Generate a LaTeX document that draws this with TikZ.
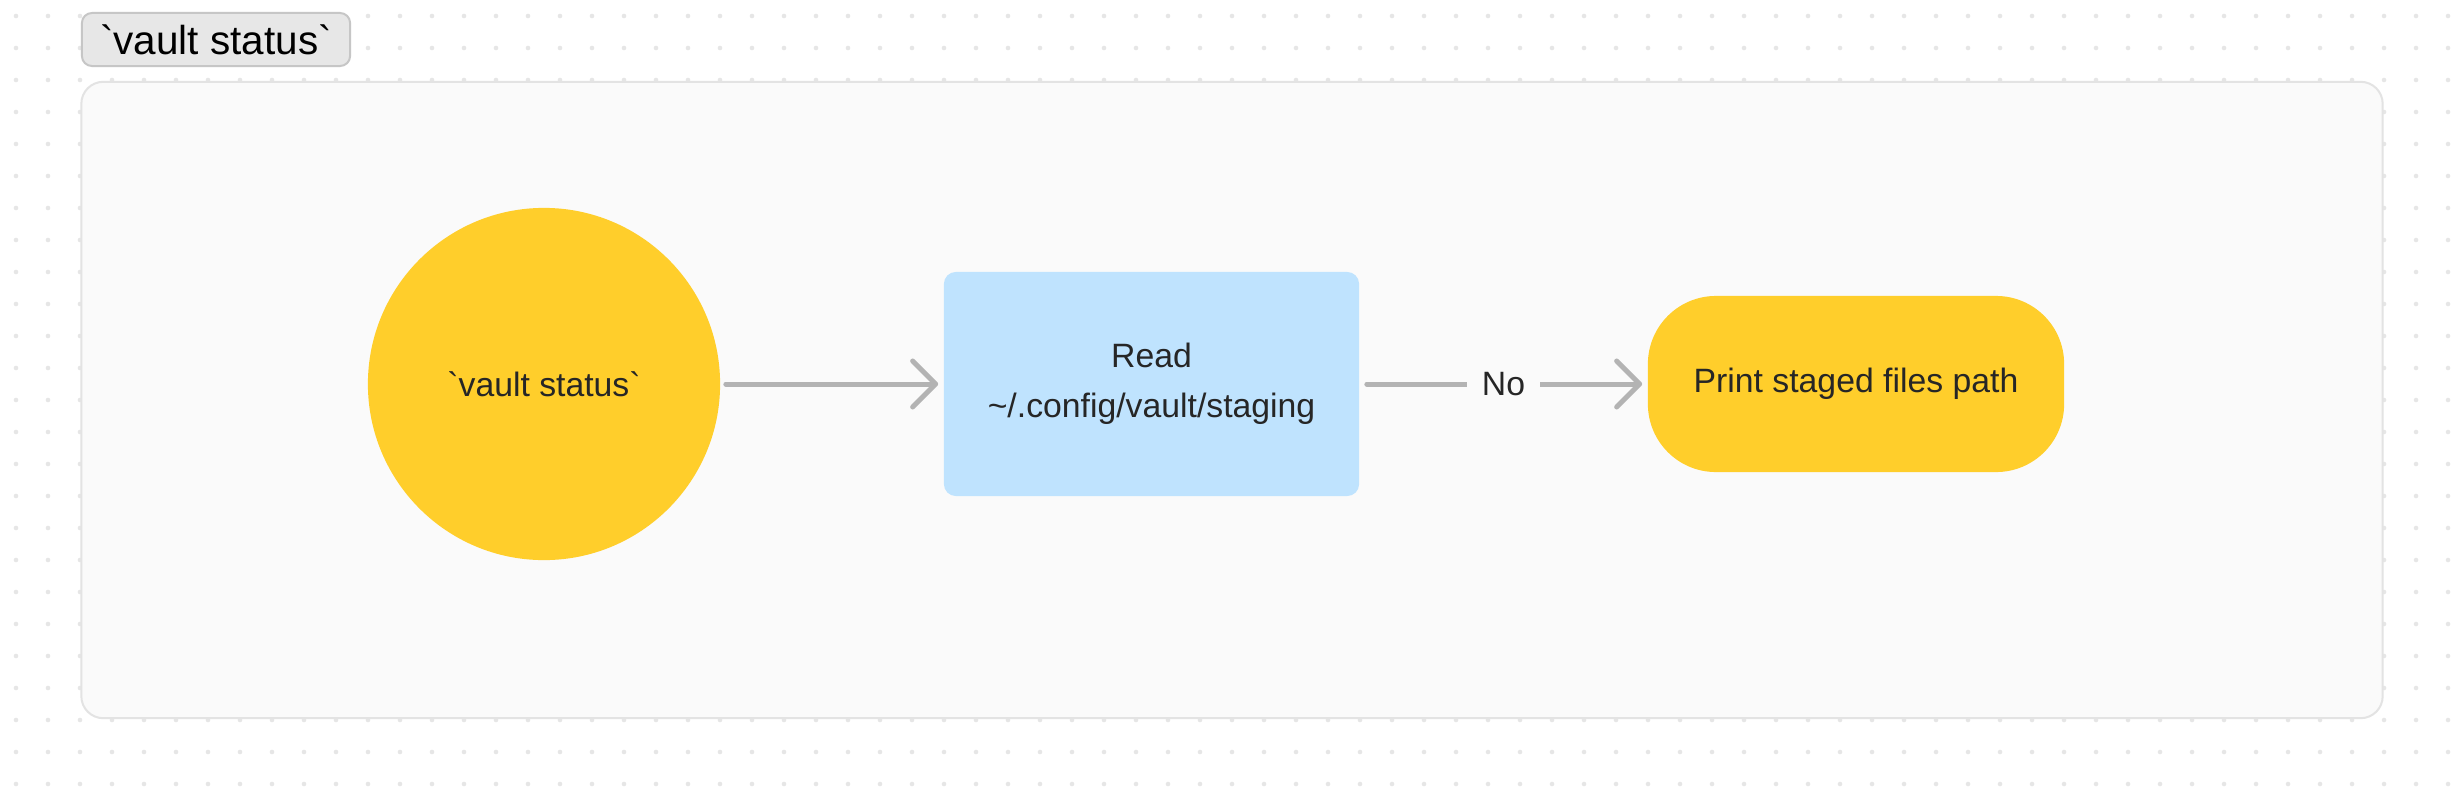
\documentclass[tikz,border=0pt]{standalone}
\usepackage{fontspec}
\setmainfont{Liberation Sans}
\usepackage{tikz}
\usepackage{xcolor}
\usetikzlibrary{arrows.meta}
\definecolor{StartYellow}{HTML}{FFCE2B}
\definecolor{ReadBlue}{HTML}{BFE3FE}
\definecolor{ArrowGray}{HTML}{B3B3B3}
\definecolor{GroupFill}{HTML}{FAFAFA}
\definecolor{GroupLine}{HTML}{E3E3E3}
\definecolor{TagFill}{HTML}{E7E7E7}
\definecolor{TagLine}{HTML}{C6C6C6}
\definecolor{DotGray}{HTML}{E6E6E6}
\definecolor{LabelText}{HTML}{262626}
\newcommand{\bq}{\textasciigrave}
\tikzstyle{gridDot}=[fill=DotGray]
\tikzstyle{groupBox}=[draw=GroupLine,fill=GroupFill,line width=0.02cm,rounded corners=0.22cm,minimum width=23cm,minimum height=6.36cm]
\tikzstyle{groupTag}=[draw=TagLine,fill=TagFill,line width=0.02cm,rounded corners=0.1cm,minimum width=2.68cm,minimum height=0.53cm,inner sep=0pt,font=\fontsize{11.5}{14}\selectfont]
\tikzstyle{startNode}=[circle,fill=StartYellow,minimum size=3.52cm,inner sep=0pt,text=LabelText,font=\fontsize{9.6}{13}\selectfont]
\tikzstyle{readBlock}=[fill=ReadBlue,rounded corners=0.12cm,minimum width=4.15cm,minimum height=2.24cm,inner sep=0pt,align=center,text=LabelText,font=\fontsize{9.6}{14.3}\selectfont]
\tikzstyle{printBlock}=[fill=StartYellow,rounded corners=0.68cm,minimum width=4.16cm,minimum height=1.76cm,inner sep=0pt,text=LabelText,font=\fontsize{9.6}{13}\selectfont]
\tikzstyle{flowArrow}=[draw=ArrowGray,line width=0.05cm,line cap=round,-{Straight Barb[length=0.23cm,width=0.46cm,round]},shorten <=0.05cm,shorten >=0.05cm]
\tikzstyle{noLabel}=[fill=GroupFill,inner xsep=0.15cm,inner ysep=0.1cm,text=LabelText,font=\fontsize{9.6}{13}\selectfont]

\begin{document}
\begin{tikzpicture}[x=0.01cm,y=-0.01cm]
    \useasboundingbox (0,0) rectangle (2464,800);
    \fill[white] (0,0) rectangle (2464,800);

    % Dotted canvas
    \foreach \i in {0,...,76}
        \foreach \j in {0,...,24}
            \fill[gridDot] (16+32*\i,16+32*\j) circle (0.65pt);

    % Group frame and its tag
    \node[groupBox] (group) at (1232,400) {};
    \node[groupTag] (tag) at (216,39.5) {\bq vault status\bq};

    % Start
    \node[startNode] (start) at (544,384) {\bq vault status\bq};

    % Read staging file
    \node[readBlock] (read) at (1151.5,384) {Read\\\textasciitilde/.config/vault/staging};
    \draw[flowArrow] (start) -- (read);

    % Print result
    \node[printBlock] (print) at (1856,384) {Print staged files path};
    \draw[flowArrow,shorten <=0.07cm] (read) -- node[noLabel] {No} (print);

\end{tikzpicture}
\end{document}
